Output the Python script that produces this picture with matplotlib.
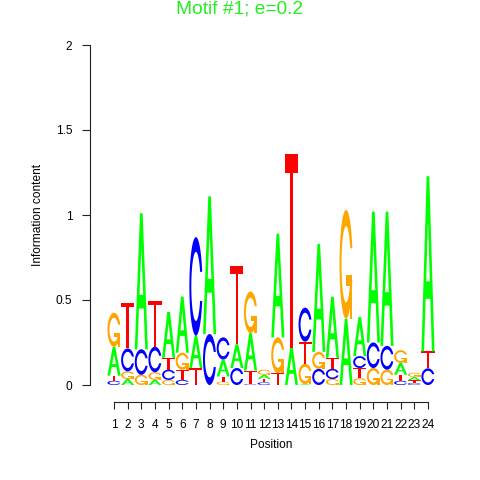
import numpy as np
import matplotlib
matplotlib.use("Agg")
import matplotlib.pyplot as plt
from matplotlib.patches import Polygon

positions = list(range(1, 25))
# information content per letter at each position (bits)
A = [0.17, 0.035, 0.80, 0.03, 0.27, 0.33, 0.19, 0.81, 0.10, 0.14, 0.22, 0.024,
     0.61, 0.22, 0.005, 0.635, 0.36, 0.39, 0.23, 0.77, 0.79, 0.07, 0.02, 1.03]
C = [0.025, 0.135, 0.15, 0.15, 0.06, 0.03, 0.58, 0.30, 0.13, 0.10, 0.005, 0.016,
     0.0, 0.0, 0.20, 0.095, 0.06, 0.0, 0.07, 0.15, 0.14, 0.025, 0.012, 0.098]
G = [0.20, 0.045, 0.06, 0.045, 0.03, 0.10, 0.0, 0.0, 0.02, 0.0, 0.245, 0.03,
     0.21, 0.0, 0.12, 0.10, 0.035, 0.64, 0.04, 0.10, 0.09, 0.075, 0.025, 0.0]
T = [0.03, 0.27, 0.0, 0.27, 0.07, 0.06, 0.10, 0.0, 0.03, 0.46, 0.08, 0.02,
     0.07, 1.14, 0.13, 0.0, 0.065, 0.0, 0.06, 0.0, 0.0, 0.035, 0.015, 0.10]
yticks = [0, 0.5, 1, 1.5, 2]
ytick_labels = ["0", "0.5", "1", "1.5", "2"]
title = "Motif #1; e=0.2"

colors = {"A": "#00FF00", "C": "#0000FF", "G": "#FFA500", "T": "#FF0000"}
font = "Liberation Sans"


# ---- glyph outlines in a unit box (seqLogo style) ----
def c_outline():
    a1 = np.linspace(0.3 + np.pi / 2, np.pi, 100)
    a2 = np.linspace(np.pi, 1.5 * np.pi, 100)
    xl1 = 0.5 + 0.5 * np.sin(a1); yl1 = 0.5 + 0.5 * np.cos(a1)
    xl2 = 0.5 + 0.5 * np.sin(a2); yl2 = 0.5 + 0.5 * np.cos(a2)
    xl = np.concatenate([xl1, xl2]); yl = np.concatenate([yl1, yl2])
    x = np.concatenate([xl, xl[::-1]]); y = np.concatenate([yl, 1 - yl[::-1]])
    xi1 = 0.5 + 0.35 * np.sin(a1); yi1 = 0.5 + 0.35 * np.cos(a1)
    m = yi1 <= yl1.max()
    xi1 = xi1[m]; yi1 = yi1[m].copy()
    yi1[0] = yl1.max()
    xi2 = 0.5 + 0.35 * np.sin(a2); yi2 = 0.5 + 0.35 * np.cos(a2)
    xi = np.concatenate([xi1, xi2]); yi = np.concatenate([yi1, yi2])
    x1 = np.concatenate([xi, xi[::-1]]); y1 = np.concatenate([yi, 1 - yi[::-1]])
    x = np.concatenate([x, x1[::-1]]); y = np.concatenate([y, y1[::-1]])
    return np.column_stack([x, y]), xl1.max()


c_shape, r1 = c_outline()
g_bar = np.array([[r1, 0.4], [0.5, 0.4], [0.5, 0.3], [r1 - 0.2, 0.3],
                  [r1 - 0.2, 0.0], [r1, 0.0], [r1, 0.4]])
a_body = np.array([[0, 0], [4, 10], [6, 10], [10, 0], [8, 0], [6.8, 3],
                   [3.2, 3], [2, 0], [0, 0]]) / 10.0
a_hole = np.array([[3.6, 4], [5, 7.5], [6.4, 4], [3.6, 4]]) / 10.0
t_shape = np.array([[0, 10], [10, 10], [10, 9], [6, 9], [6, 0], [4, 0],
                    [4, 9], [0, 9]]) / 10.0

glyphs = {
    "A": [(a_body, "A"), (a_hole, "white")],
    "C": [(c_shape, "C")],
    "G": [(c_shape, "G"), (g_bar, "G")],
    "T": [(t_shape, "T")],
}

fig = plt.figure(figsize=(4.8, 4.8), dpi=100)
ax = fig.add_axes([107.2 / 480, 1 - 385 / 480, 327.6 / 480, 340 / 480])
ax.set_xlim(0.5, 24.5)
ax.set_ylim(0, 2)

width = 0.96
data = {"A": A, "C": C, "G": G, "T": T}
for i, p in enumerate(positions):
    items = [(data[L][i], L) for L in "ACGT" if data[L][i] > 0]
    items.sort(key=lambda t: t[0])
    y0 = 0.0
    for h, L in items:
        for shape, ckey in glyphs[L]:
            pts = shape.copy()
            pts[:, 0] = p - width / 2 + width * pts[:, 0]
            pts[:, 1] = y0 + h * pts[:, 1]
            col = colors.get(ckey, ckey)
            ax.add_patch(Polygon(pts, closed=True, facecolor=col,
                                 edgecolor="none", lw=0))
        y0 += h

for s in ["top", "right"]:
    ax.spines[s].set_visible(False)
ax.spines["left"].set_position(("outward", 12.4))
ax.spines["bottom"].set_position(("outward", 12.0))
ax.spines["left"].set_bounds(0, 2)
ax.spines["bottom"].set_bounds(1, 24)
for s in ["left", "bottom"]:
    ax.spines[s].set_linewidth(0.8)
    ax.spines[s].set_color("#222222")

ax.set_xticks(positions)
ax.set_xticklabels([str(p) for p in positions], fontfamily=font, fontsize=8.6)
ax.set_yticks(yticks)
ax.set_yticklabels(ytick_labels, fontfamily=font, fontsize=8.6)
ax.tick_params(axis="y", length=5.8, width=0.8, pad=7.0, color="#222222")
ax.tick_params(axis="x", length=4.7, width=0.8, pad=7.5, color="#222222")

fig.text(38 / 480, 1 - 215 / 480, "Information content", rotation=90,
         ha="center", va="center", fontfamily=font, fontsize=8.6)
fig.text(271 / 480, 1 - 445 / 480, "Position", ha="center", va="center",
         fontfamily=font, fontsize=8.6)
fig.text(240 / 480, 1 - 9 / 480, title, ha="center", va="center",
         fontfamily=font, fontsize=13.8, color="#22EE22")

fig.savefig("out.png", dpi=100)
